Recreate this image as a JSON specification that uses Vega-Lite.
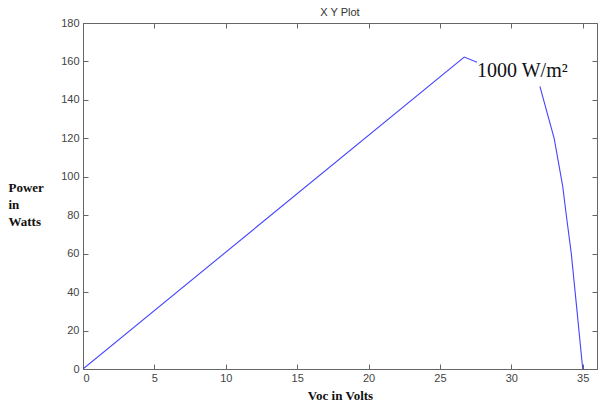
{
  "$schema": "https://vega.github.io/schema/vega-lite/v6.json",
  "autosize": "none",
  "width": 514,
  "height": 346,
  "padding": {"left": 83, "top": 23, "right": 1, "bottom": 39},
  "background": "white",
  "title": {"text": "X Y Plot", "font": "Liberation Sans", "fontSize": 11, "fontWeight": "normal", "color": "#333", "offset": -1},
  "config": {
    "view": {"stroke": "#666", "strokeWidth": 1},
    "axis": {
      "grid": false,
      "domainColor": "#666",
      "tickColor": "#666",
      "tickSize": -5,
      "labelFont": "Liberation Sans",
      "labelFontSize": 11,
      "labelColor": "#444",
      "titleFont": "Liberation Serif",
      "titleFontSize": 13,
      "titleFontWeight": "bold",
      "titleColor": "#111"
    }
  },
  "datasets": {
    "curve": [
      {"v": 0, "p": 0, "seg": "a"},
      {"v": 26.7, "p": 162.3, "seg": "a"},
      {"v": 27.6, "p": 159.6, "seg": "a"},
      {"v": 32.0, "p": 147, "seg": "b"},
      {"v": 33.0, "p": 120, "seg": "b"},
      {"v": 33.6, "p": 95, "seg": "b"},
      {"v": 33.85, "p": 80, "seg": "b"},
      {"v": 34.2, "p": 60, "seg": "b"},
      {"v": 34.55, "p": 34, "seg": "b"},
      {"v": 35.0, "p": 0, "seg": "b"}
    ],
    "label": [
      {"v": 27.6, "p": 152, "t": "1000 W/m²"}
    ]
  },
  "layer": [
    {
      "data": {"name": "curve"},
      "mark": {"type": "line", "color": "#4444ff", "strokeWidth": 1.1, "clip": true},
      "encoding": {
        "x": {"field": "v", "type": "quantitative", "scale": {"domain": [0, 36], "nice": false},
              "axis": {"title": "Voc in Volts", "values": [0,5,10,15,20,25,30,35], "labelPadding": 8, "titlePadding": 6}},
        "y": {"field": "p", "type": "quantitative", "scale": {"domain": [0, 180], "nice": false},
              "axis": {"title": ["Power", "in", "Watts"], "values": [0,20,40,60,80,100,120,140,160,180], "labelPadding": 9,
                       "titleAngle": 0, "titleAlign": "left", "titleBaseline": "top", "titleX": -75, "titleY": 158, "titleLineHeight": 17}},
        "detail": {"field": "seg"}
      }
    },
    {
      "data": {"name": "label"},
      "mark": {"type": "text", "align": "left", "baseline": "alphabetic", "font": "Liberation Serif", "fontSize": 20, "color": "#111"},
      "encoding": {
        "x": {"field": "v", "type": "quantitative", "axis": {"orient": "top", "labels": false, "title": null, "domain": false, "values": [0,5,10,15,20,25,30,35]}},
        "y": {"field": "p", "type": "quantitative", "axis": {"orient": "right", "labels": false, "title": null, "domain": false, "values": [0,20,40,60,80,100,120,140,160,180]}},
        "text": {"field": "t"}
      }
    }
  ],
  "resolve": {"axis": {"x": "independent", "y": "independent"}}
}
